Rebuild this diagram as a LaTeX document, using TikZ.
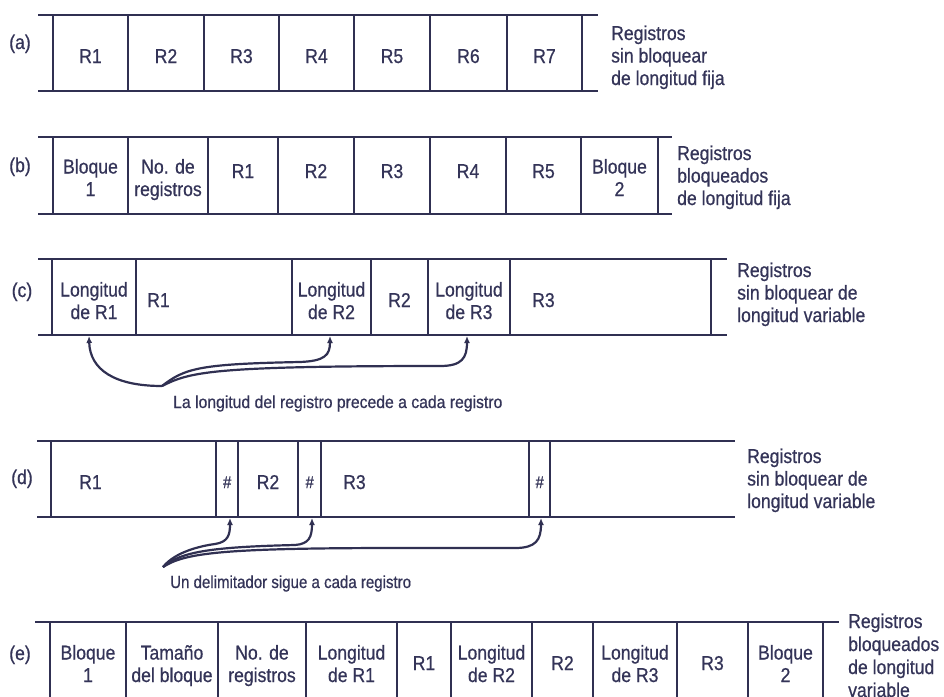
\documentclass[tikz,border=0pt]{standalone}
\usepackage{fontspec}
\setmainfont{Liberation Sans}[FakeStretch=0.88,FakeBold=0.6]
\newfontfamily\capfont[FakeStretch=0.86,FakeBold=0.6]{Liberation Sans}
\newfontfamily\capfontc[FakeStretch=0.9,FakeBold=0.6]{Liberation Sans}
\usetikzlibrary{arrows.meta}
\definecolor{ink}{RGB}{48,48,82}
\definecolor{txtc}{RGB}{52,52,88}
\tikzset{
  hl/.style={draw=ink, line width=1.9pt},
  vl/.style={draw=ink, line width=1.5pt},
  txt/.style={font=\fontsize{20}{22.5}\selectfont, text=txtc, inner sep=0pt, anchor=base, align=center},
  lbl/.style={txt},
  side/.style={font=\fontsize{20}{22.5}\selectfont, text=txtc, inner sep=0pt, anchor=base west, align=left},
  capt/.style={font=\capfont\fontsize{17.5}{19}\selectfont, text=txtc, inner sep=0pt, anchor=base west},
  hashc/.style={font=\itshape\fontsize{17}{18}\selectfont, text=txtc, inner sep=0pt, anchor=base},
  conn/.style={draw=ink, line width=2.2pt, -{Latex[length=7pt,width=6pt]}},
}
\newcommand{\rowframe}[5]{%
  \draw[hl] (#3,#1) -- (#4,#1);
  \draw[hl] (#3,#2) -- (#4,#2);
  \foreach \xx in {#5} \draw[vl] (\xx,#1) -- (\xx,#2);
}
\begin{document}
\begin{tikzpicture}[x=1pt, y=-1pt]
\useasboundingbox (0,0) rectangle (944,696);
\fill[white] (0,0) rectangle (944,696);
\clip (0,0) rectangle (944,696);

% ---------- (a)
\rowframe{15}{91}{38}{598}{53,128,204,279,354,430,507,582}
\node[lbl] (la) at (20,49) {(a)};
\node[txt] (a1) at (90.5,63) {R1};
\node[txt] (a2) at (166,63) {R2};
\node[txt] (a3) at (241.5,63) {R3};
\node[txt] (a4) at (316.5,63) {R4};
\node[txt] (a5) at (392,63) {R5};
\node[txt] (a6) at (468.5,63) {R6};
\node[txt] (a7) at (544.5,63) {R7};
\node[side] (sa) at (611,85) {Registros\\sin bloquear\\de longitud fija};

% ---------- (b)
\rowframe{137}{214}{38}{672}{53,128,208,278,354,430,506,581,658}
\node[lbl] (lb) at (20,172) {(b)};
\node[txt] (b1) at (90.5,196) {Bloque\\1};
\node[txt] (b2) at (168,196) {No. de\\registros};
\node[txt] (b3) at (243,178) {R1};
\node[txt] (b4) at (316,178) {R2};
\node[txt] (b5) at (392,178) {R3};
\node[txt] (b6) at (468,178) {R4};
\node[txt] (b7) at (543.5,178) {R5};
\node[txt] (b8) at (619.5,196) {Bloque\\2};
\node[side] (sb) at (677,205) {Registros\\bloqueados\\de longitud fija};

% ---------- (c)
\rowframe{259}{335}{38}{727}{52,136,292,371,428,510,711}
\node[lbl] (lc) at (22,297) {(c)};
\node[txt] (c1) at (94,319) {Longitud\\de R1};
\node[txt, anchor=base west] (c2) at (147,307) {R1};
\node[txt] (c3) at (331.5,319) {Longitud\\de R2};
\node[txt] (c4) at (399.5,307) {R2};
\node[txt] (c5) at (469,319) {Longitud\\de R3};
\node[txt, anchor=base west] (c6) at (532,307) {R3};
\node[side] (sc) at (737,322) {Registros\\sin bloquear de\\longitud variable};
\coordinate (mc) at (162,386);
\coordinate (tc1) at (89,336);
\coordinate (tc2) at (330,336);
\coordinate (tc3) at (467,336);
\draw[conn] (mc) .. controls (115,386) and (90,370) .. (tc1);
\draw[conn] (mc) .. controls (185,368) and (200,364) .. (300,362) .. controls (325,361) and (330,355) .. (tc2);
\draw[conn] (mc) .. controls (190,372) and (210,366) .. (440,366) .. controls (462,366) and (467,358) .. (tc3);
\node[capt, font=\capfontc\fontsize{17.5}{19}\selectfont] (capc) at (173,408) {La longitud del registro precede a cada registro};

% ---------- (d)
\rowframe{441}{517}{37}{735}{51,216,238,298,321,529,550}
\node[lbl] (ld) at (22,484) {(d)};
\node[txt, anchor=base west] (d1) at (79,489) {R1};
\node[hashc] (d2) at (227,488) {\#};
\node[txt] (d3) at (268,489) {R2};
\node[hashc] (d4) at (309.5,488) {\#};
\node[txt, anchor=base west] (d5) at (343,489) {R3};
\node[hashc] (d6) at (539.5,488) {\#};
\node[side] (sd) at (747,508) {Registros\\sin bloquear de\\longitud variable};
\coordinate (md) at (163,567);
\coordinate (td1) at (230,518);
\coordinate (td2) at (312,518);
\coordinate (td3) at (541,518);
\draw[conn] (md) .. controls (175,552) and (200,546) .. (215,544) .. controls (228,542) and (230,535) .. (td1);
\draw[conn] (md) .. controls (180,552) and (210,547) .. (295,545) .. controls (309,544) and (312,537) .. (td2);
\draw[conn] (md) .. controls (185,553) and (220,548) .. (400,548) -- (515,548) .. controls (536,548) and (541,540) .. (td3);
\node[capt] (capd) at (170,588) {Un delimitador sigue a cada registro};

% ---------- (e)
\rowframe{622}{699}{35}{839}{50,126,218,306,397,451,532,593,677,748,823}
\node[lbl] (le) at (20,660) {(e)};
\node[txt] (e1) at (88,682) {Bloque\\1};
\node[txt] (e2) at (172,682) {Tamaño\\del bloque};
\node[txt] (e3) at (262,682) {No. de\\registros};
\node[txt] (e4) at (351.5,682) {Longitud\\de R1};
\node[txt] (e5) at (424,670) {R1};
\node[txt] (e6) at (491.5,682) {Longitud\\de R2};
\node[txt] (e7) at (562.5,670) {R2};
\node[txt] (e8) at (635,682) {Longitud\\de R3};
\node[txt] (e9) at (712.5,670) {R3};
\node[txt] (e10) at (785.5,682) {Bloque\\2};
\node[side, font=\fontsize{20}{23}\selectfont] (se) at (848,697) {Registros\\bloqueados\\de longitud\\variable};
\end{tikzpicture}
\end{document}
